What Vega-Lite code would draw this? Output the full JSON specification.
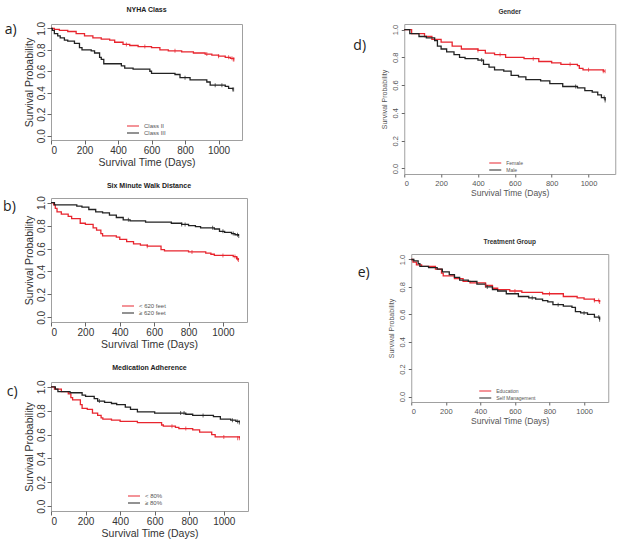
{
  "$schema": "https://vega.github.io/schema/vega-lite/v6.json",
  "background": "white",
  "padding": {"left": 3, "top": 3, "right": 3, "bottom": 3},
  "config": {
    "font": "Liberation Sans",
    "view": {"stroke": "#a0a0a0", "strokeWidth": 1},
    "axis": {"domain": false, "grid": false, "labelColor": "#333", "tickColor": "#666", "titleColor": "#333", "titleFontWeight": "normal", "labelFont": "Liberation Sans", "titleFont": "Liberation Sans", "tickSize": 4, "labelPadding": 1},
    "legend": {"labelFont": "Liberation Sans", "labelColor": "#555", "labelFontSize": 6, "rowPadding": 0, "symbolType": "M-2,0H2", "symbolSize": 36, "symbolStrokeWidth": 1.4, "labelOffset": 7, "padding": 0, "title": null}
  },
  "datasets": {
    "km": [
      {"p":"a","g":"Class II","d":0,"s":1.0},{"p":"a","g":"Class II","d":20,"s":0.99},{"p":"a","g":"Class II","d":50,"s":0.98},{"p":"a","g":"Class II","d":100,"s":0.97},{"p":"a","g":"Class II","d":150,"s":0.95},{"p":"a","g":"Class II","d":200,"s":0.93},{"p":"a","g":"Class II","d":250,"s":0.91},{"p":"a","g":"Class II","d":300,"s":0.90},{"p":"a","g":"Class II","d":350,"s":0.89},{"p":"a","g":"Class II","d":380,"s":0.87},{"p":"a","g":"Class II","d":430,"s":0.85},{"p":"a","g":"Class II","d":470,"s":0.84},{"p":"a","g":"Class II","d":520,"s":0.83},{"p":"a","g":"Class II","d":600,"s":0.82},{"p":"a","g":"Class II","d":650,"s":0.80},{"p":"a","g":"Class II","d":700,"s":0.79},{"p":"a","g":"Class II","d":780,"s":0.78},{"p":"a","g":"Class II","d":850,"s":0.77},{"p":"a","g":"Class II","d":920,"s":0.76},{"p":"a","g":"Class II","d":960,"s":0.75},{"p":"a","g":"Class II","d":1000,"s":0.74},{"p":"a","g":"Class II","d":1040,"s":0.73},{"p":"a","g":"Class II","d":1070,"s":0.72},{"p":"a","g":"Class II","d":1090,"s":0.71},
      {"p":"a","g":"Class II","d":450,"s":0.85,"c":1},{"p":"a","g":"Class II","d":560,"s":0.83,"c":1},{"p":"a","g":"Class II","d":740,"s":0.79,"c":1},{"p":"a","g":"Class II","d":930,"s":0.76,"c":1},{"p":"a","g":"Class II","d":1000,"s":0.74,"c":1},{"p":"a","g":"Class II","d":1060,"s":0.73,"c":1},{"p":"a","g":"Class II","d":1080,"s":0.72,"c":1},{"p":"a","g":"Class II","d":1088,"s":0.71,"c":1},{"p":"a","g":"Class II","d":1092,"s":0.71,"c":1},
      {"p":"a","g":"Class III","d":0,"s":1.0},{"p":"a","g":"Class III","d":8,"s":0.98},{"p":"a","g":"Class III","d":20,"s":0.95},{"p":"a","g":"Class III","d":40,"s":0.93},{"p":"a","g":"Class III","d":55,"s":0.91},{"p":"a","g":"Class III","d":80,"s":0.89},{"p":"a","g":"Class III","d":100,"s":0.88},{"p":"a","g":"Class III","d":140,"s":0.86},{"p":"a","g":"Class III","d":170,"s":0.82},{"p":"a","g":"Class III","d":185,"s":0.80},{"p":"a","g":"Class III","d":240,"s":0.79},{"p":"a","g":"Class III","d":260,"s":0.77},{"p":"a","g":"Class III","d":290,"s":0.73},{"p":"a","g":"Class III","d":300,"s":0.71},{"p":"a","g":"Class III","d":315,"s":0.67},{"p":"a","g":"Class III","d":420,"s":0.65},{"p":"a","g":"Class III","d":440,"s":0.63},{"p":"a","g":"Class III","d":490,"s":0.62},{"p":"a","g":"Class III","d":590,"s":0.60},{"p":"a","g":"Class III","d":600,"s":0.58},{"p":"a","g":"Class III","d":740,"s":0.57},{"p":"a","g":"Class III","d":770,"s":0.54},{"p":"a","g":"Class III","d":830,"s":0.52},{"p":"a","g":"Class III","d":930,"s":0.50},{"p":"a","g":"Class III","d":950,"s":0.47},{"p":"a","g":"Class III","d":1040,"s":0.46},{"p":"a","g":"Class III","d":1060,"s":0.44},{"p":"a","g":"Class III","d":1085,"s":0.43},
      {"p":"a","g":"Class III","d":800,"s":0.54,"c":1},{"p":"a","g":"Class III","d":980,"s":0.47,"c":1},{"p":"a","g":"Class III","d":1020,"s":0.47,"c":1},{"p":"a","g":"Class III","d":1085,"s":0.43,"c":1},{"p":"a","g":"Class III","d":1090,"s":0.43,"c":1},
      {"p":"b","g":"< 620 feet","d":0,"s":1.0},{"p":"b","g":"< 620 feet","d":15,"s":0.98},{"p":"b","g":"< 620 feet","d":25,"s":0.95},{"p":"b","g":"< 620 feet","d":35,"s":0.92},{"p":"b","g":"< 620 feet","d":60,"s":0.90},{"p":"b","g":"< 620 feet","d":100,"s":0.88},{"p":"b","g":"< 620 feet","d":120,"s":0.86},{"p":"b","g":"< 620 feet","d":170,"s":0.82},{"p":"b","g":"< 620 feet","d":200,"s":0.81},{"p":"b","g":"< 620 feet","d":245,"s":0.78},{"p":"b","g":"< 620 feet","d":265,"s":0.76},{"p":"b","g":"< 620 feet","d":290,"s":0.73},{"p":"b","g":"< 620 feet","d":300,"s":0.71},{"p":"b","g":"< 620 feet","d":380,"s":0.70},{"p":"b","g":"< 620 feet","d":400,"s":0.68},{"p":"b","g":"< 620 feet","d":440,"s":0.66},{"p":"b","g":"< 620 feet","d":480,"s":0.64},{"p":"b","g":"< 620 feet","d":520,"s":0.63},{"p":"b","g":"< 620 feet","d":560,"s":0.62},{"p":"b","g":"< 620 feet","d":640,"s":0.59},{"p":"b","g":"< 620 feet","d":660,"s":0.58},{"p":"b","g":"< 620 feet","d":800,"s":0.57},{"p":"b","g":"< 620 feet","d":900,"s":0.56},{"p":"b","g":"< 620 feet","d":930,"s":0.55},{"p":"b","g":"< 620 feet","d":950,"s":0.54},{"p":"b","g":"< 620 feet","d":1060,"s":0.53},{"p":"b","g":"< 620 feet","d":1080,"s":0.51},{"p":"b","g":"< 620 feet","d":1090,"s":0.50},
      {"p":"b","g":"< 620 feet","d":560,"s":0.62,"c":1},{"p":"b","g":"< 620 feet","d":820,"s":0.57,"c":1},{"p":"b","g":"< 620 feet","d":1000,"s":0.54,"c":1},{"p":"b","g":"< 620 feet","d":1070,"s":0.53,"c":1},{"p":"b","g":"< 620 feet","d":1085,"s":0.51,"c":1},{"p":"b","g":"< 620 feet","d":1090,"s":0.50,"c":1},
      {"p":"b","g":"≥ 620 feet","d":0,"s":1.0},{"p":"b","g":"≥ 620 feet","d":20,"s":0.98},{"p":"b","g":"≥ 620 feet","d":150,"s":0.97},{"p":"b","g":"≥ 620 feet","d":180,"s":0.96},{"p":"b","g":"≥ 620 feet","d":220,"s":0.94},{"p":"b","g":"≥ 620 feet","d":260,"s":0.92},{"p":"b","g":"≥ 620 feet","d":300,"s":0.91},{"p":"b","g":"≥ 620 feet","d":340,"s":0.89},{"p":"b","g":"≥ 620 feet","d":380,"s":0.87},{"p":"b","g":"≥ 620 feet","d":420,"s":0.85},{"p":"b","g":"≥ 620 feet","d":460,"s":0.84},{"p":"b","g":"≥ 620 feet","d":550,"s":0.83},{"p":"b","g":"≥ 620 feet","d":700,"s":0.82},{"p":"b","g":"≥ 620 feet","d":760,"s":0.81},{"p":"b","g":"≥ 620 feet","d":800,"s":0.80},{"p":"b","g":"≥ 620 feet","d":840,"s":0.79},{"p":"b","g":"≥ 620 feet","d":870,"s":0.78},{"p":"b","g":"≥ 620 feet","d":950,"s":0.77},{"p":"b","g":"≥ 620 feet","d":980,"s":0.75},{"p":"b","g":"≥ 620 feet","d":1010,"s":0.74},{"p":"b","g":"≥ 620 feet","d":1050,"s":0.73},{"p":"b","g":"≥ 620 feet","d":1070,"s":0.72},{"p":"b","g":"≥ 620 feet","d":1090,"s":0.71},
      {"p":"b","g":"≥ 620 feet","d":450,"s":0.85,"c":1},{"p":"b","g":"≥ 620 feet","d":760,"s":0.81,"c":1},{"p":"b","g":"≥ 620 feet","d":780,"s":0.81,"c":1},{"p":"b","g":"≥ 620 feet","d":940,"s":0.78,"c":1},{"p":"b","g":"≥ 620 feet","d":1000,"s":0.75,"c":1},{"p":"b","g":"≥ 620 feet","d":1060,"s":0.73,"c":1},{"p":"b","g":"≥ 620 feet","d":1085,"s":0.72,"c":1},{"p":"b","g":"≥ 620 feet","d":1092,"s":0.71,"c":1},
      {"p":"c","g":"< 80%","d":0,"s":1.0},{"p":"c","g":"< 80%","d":20,"s":0.98},{"p":"c","g":"< 80%","d":60,"s":0.96},{"p":"c","g":"< 80%","d":100,"s":0.94},{"p":"c","g":"< 80%","d":115,"s":0.91},{"p":"c","g":"< 80%","d":125,"s":0.89},{"p":"c","g":"< 80%","d":170,"s":0.85},{"p":"c","g":"< 80%","d":180,"s":0.82},{"p":"c","g":"< 80%","d":210,"s":0.81},{"p":"c","g":"< 80%","d":240,"s":0.78},{"p":"c","g":"< 80%","d":270,"s":0.76},{"p":"c","g":"< 80%","d":290,"s":0.74},{"p":"c","g":"< 80%","d":300,"s":0.73},{"p":"c","g":"< 80%","d":350,"s":0.72},{"p":"c","g":"< 80%","d":400,"s":0.71},{"p":"c","g":"< 80%","d":500,"s":0.70},{"p":"c","g":"< 80%","d":640,"s":0.68},{"p":"c","g":"< 80%","d":650,"s":0.67},{"p":"c","g":"< 80%","d":720,"s":0.66},{"p":"c","g":"< 80%","d":740,"s":0.65},{"p":"c","g":"< 80%","d":820,"s":0.64},{"p":"c","g":"< 80%","d":860,"s":0.62},{"p":"c","g":"< 80%","d":930,"s":0.60},{"p":"c","g":"< 80%","d":950,"s":0.58},{"p":"c","g":"< 80%","d":1090,"s":0.57},
      {"p":"c","g":"< 80%","d":700,"s":0.67,"c":1},{"p":"c","g":"< 80%","d":780,"s":0.65,"c":1},{"p":"c","g":"< 80%","d":1000,"s":0.58,"c":1},{"p":"c","g":"< 80%","d":1080,"s":0.57,"c":1},{"p":"c","g":"< 80%","d":1090,"s":0.57,"c":1},
      {"p":"c","g":"≥ 80%","d":0,"s":1.0},{"p":"c","g":"≥ 80%","d":25,"s":0.98},{"p":"c","g":"≥ 80%","d":40,"s":0.96},{"p":"c","g":"≥ 80%","d":110,"s":0.95},{"p":"c","g":"≥ 80%","d":180,"s":0.93},{"p":"c","g":"≥ 80%","d":200,"s":0.92},{"p":"c","g":"≥ 80%","d":250,"s":0.90},{"p":"c","g":"≥ 80%","d":270,"s":0.88},{"p":"c","g":"≥ 80%","d":310,"s":0.87},{"p":"c","g":"≥ 80%","d":350,"s":0.86},{"p":"c","g":"≥ 80%","d":380,"s":0.85},{"p":"c","g":"≥ 80%","d":430,"s":0.83},{"p":"c","g":"≥ 80%","d":460,"s":0.81},{"p":"c","g":"≥ 80%","d":500,"s":0.79},{"p":"c","g":"≥ 80%","d":600,"s":0.78},{"p":"c","g":"≥ 80%","d":780,"s":0.77},{"p":"c","g":"≥ 80%","d":820,"s":0.76},{"p":"c","g":"≥ 80%","d":940,"s":0.75},{"p":"c","g":"≥ 80%","d":980,"s":0.73},{"p":"c","g":"≥ 80%","d":1040,"s":0.72},{"p":"c","g":"≥ 80%","d":1070,"s":0.71},{"p":"c","g":"≥ 80%","d":1090,"s":0.70},
      {"p":"c","g":"≥ 80%","d":280,"s":0.88,"c":1},{"p":"c","g":"≥ 80%","d":750,"s":0.78,"c":1},{"p":"c","g":"≥ 80%","d":770,"s":0.78,"c":1},{"p":"c","g":"≥ 80%","d":880,"s":0.76,"c":1},{"p":"c","g":"≥ 80%","d":1050,"s":0.72,"c":1},{"p":"c","g":"≥ 80%","d":1080,"s":0.71,"c":1},{"p":"c","g":"≥ 80%","d":1090,"s":0.70,"c":1},
      {"p":"d","g":"Female","d":0,"s":1.0},{"p":"d","g":"Female","d":40,"s":0.97},{"p":"d","g":"Female","d":110,"s":0.95},{"p":"d","g":"Female","d":150,"s":0.93},{"p":"d","g":"Female","d":200,"s":0.91},{"p":"d","g":"Female","d":260,"s":0.88},{"p":"d","g":"Female","d":310,"s":0.86},{"p":"d","g":"Female","d":400,"s":0.85},{"p":"d","g":"Female","d":440,"s":0.83},{"p":"d","g":"Female","d":490,"s":0.82},{"p":"d","g":"Female","d":550,"s":0.80},{"p":"d","g":"Female","d":650,"s":0.79},{"p":"d","g":"Female","d":730,"s":0.77},{"p":"d","g":"Female","d":800,"s":0.76},{"p":"d","g":"Female","d":850,"s":0.75},{"p":"d","g":"Female","d":940,"s":0.74},{"p":"d","g":"Female","d":950,"s":0.72},{"p":"d","g":"Female","d":970,"s":0.71},{"p":"d","g":"Female","d":1080,"s":0.70},{"p":"d","g":"Female","d":1090,"s":0.70},
      {"p":"d","g":"Female","d":400,"s":0.85,"c":1},{"p":"d","g":"Female","d":520,"s":0.82,"c":1},{"p":"d","g":"Female","d":700,"s":0.79,"c":1},{"p":"d","g":"Female","d":900,"s":0.75,"c":1},{"p":"d","g":"Female","d":1000,"s":0.71,"c":1},{"p":"d","g":"Female","d":1080,"s":0.70,"c":1},{"p":"d","g":"Female","d":1090,"s":0.70,"c":1},
      {"p":"d","g":"Male","d":0,"s":1.0},{"p":"d","g":"Male","d":30,"s":0.97},{"p":"d","g":"Male","d":80,"s":0.95},{"p":"d","g":"Male","d":120,"s":0.94},{"p":"d","g":"Male","d":165,"s":0.92},{"p":"d","g":"Male","d":180,"s":0.88},{"p":"d","g":"Male","d":200,"s":0.86},{"p":"d","g":"Male","d":230,"s":0.84},{"p":"d","g":"Male","d":270,"s":0.82},{"p":"d","g":"Male","d":300,"s":0.80},{"p":"d","g":"Male","d":330,"s":0.79},{"p":"d","g":"Male","d":400,"s":0.78},{"p":"d","g":"Male","d":430,"s":0.75},{"p":"d","g":"Male","d":460,"s":0.73},{"p":"d","g":"Male","d":490,"s":0.71},{"p":"d","g":"Male","d":540,"s":0.70},{"p":"d","g":"Male","d":580,"s":0.67},{"p":"d","g":"Male","d":620,"s":0.66},{"p":"d","g":"Male","d":660,"s":0.64},{"p":"d","g":"Male","d":740,"s":0.63},{"p":"d","g":"Male","d":790,"s":0.61},{"p":"d","g":"Male","d":860,"s":0.59},{"p":"d","g":"Male","d":940,"s":0.58},{"p":"d","g":"Male","d":980,"s":0.56},{"p":"d","g":"Male","d":1020,"s":0.55},{"p":"d","g":"Male","d":1050,"s":0.53},{"p":"d","g":"Male","d":1070,"s":0.51},{"p":"d","g":"Male","d":1090,"s":0.49},
      {"p":"d","g":"Male","d":420,"s":0.78,"c":1},{"p":"d","g":"Male","d":930,"s":0.59,"c":1},{"p":"d","g":"Male","d":1085,"s":0.51,"c":1},{"p":"d","g":"Male","d":1090,"s":0.49,"c":1},
      {"p":"e","g":"Education","d":0,"s":1.0},{"p":"e","g":"Education","d":10,"s":0.98},{"p":"e","g":"Education","d":30,"s":0.96},{"p":"e","g":"Education","d":60,"s":0.95},{"p":"e","g":"Education","d":140,"s":0.93},{"p":"e","g":"Education","d":175,"s":0.90},{"p":"e","g":"Education","d":185,"s":0.88},{"p":"e","g":"Education","d":250,"s":0.86},{"p":"e","g":"Education","d":300,"s":0.84},{"p":"e","g":"Education","d":340,"s":0.83},{"p":"e","g":"Education","d":430,"s":0.81},{"p":"e","g":"Education","d":470,"s":0.79},{"p":"e","g":"Education","d":500,"s":0.78},{"p":"e","g":"Education","d":570,"s":0.77},{"p":"e","g":"Education","d":640,"s":0.76},{"p":"e","g":"Education","d":760,"s":0.75},{"p":"e","g":"Education","d":880,"s":0.73},{"p":"e","g":"Education","d":960,"s":0.72},{"p":"e","g":"Education","d":1000,"s":0.71},{"p":"e","g":"Education","d":1060,"s":0.70},{"p":"e","g":"Education","d":1090,"s":0.69},
      {"p":"e","g":"Education","d":430,"s":0.81,"c":1},{"p":"e","g":"Education","d":600,"s":0.77,"c":1},{"p":"e","g":"Education","d":800,"s":0.75,"c":1},{"p":"e","g":"Education","d":1060,"s":0.70,"c":1},{"p":"e","g":"Education","d":1085,"s":0.70,"c":1},{"p":"e","g":"Education","d":1090,"s":0.69,"c":1},
      {"p":"e","g":"Self Management","d":0,"s":1.0},{"p":"e","g":"Self Management","d":15,"s":0.99},{"p":"e","g":"Self Management","d":40,"s":0.97},{"p":"e","g":"Self Management","d":50,"s":0.95},{"p":"e","g":"Self Management","d":100,"s":0.94},{"p":"e","g":"Self Management","d":150,"s":0.93},{"p":"e","g":"Self Management","d":180,"s":0.91},{"p":"e","g":"Self Management","d":220,"s":0.89},{"p":"e","g":"Self Management","d":250,"s":0.87},{"p":"e","g":"Self Management","d":280,"s":0.85},{"p":"e","g":"Self Management","d":330,"s":0.84},{"p":"e","g":"Self Management","d":380,"s":0.82},{"p":"e","g":"Self Management","d":430,"s":0.80},{"p":"e","g":"Self Management","d":470,"s":0.78},{"p":"e","g":"Self Management","d":500,"s":0.77},{"p":"e","g":"Self Management","d":550,"s":0.75},{"p":"e","g":"Self Management","d":620,"s":0.73},{"p":"e","g":"Self Management","d":680,"s":0.72},{"p":"e","g":"Self Management","d":720,"s":0.71},{"p":"e","g":"Self Management","d":760,"s":0.70},{"p":"e","g":"Self Management","d":790,"s":0.69},{"p":"e","g":"Self Management","d":820,"s":0.67},{"p":"e","g":"Self Management","d":880,"s":0.66},{"p":"e","g":"Self Management","d":930,"s":0.65},{"p":"e","g":"Self Management","d":950,"s":0.62},{"p":"e","g":"Self Management","d":980,"s":0.61},{"p":"e","g":"Self Management","d":1020,"s":0.60},{"p":"e","g":"Self Management","d":1060,"s":0.58},{"p":"e","g":"Self Management","d":1090,"s":0.56},
      {"p":"e","g":"Self Management","d":440,"s":0.80,"c":1},{"p":"e","g":"Self Management","d":700,"s":0.72,"c":1},{"p":"e","g":"Self Management","d":850,"s":0.67,"c":1},{"p":"e","g":"Self Management","d":1000,"s":0.61,"c":1},{"p":"e","g":"Self Management","d":1085,"s":0.58,"c":1},{"p":"e","g":"Self Management","d":1090,"s":0.56,"c":1}
    ]
  },
  "resolve": {"scale": {"color": "independent"}, "legend": {"color": "independent"}},
  "spacing": 104,
  "hconcat": [
    {
      "spacing": 13,
      "resolve": {"scale": {"color": "independent"}, "legend": {"color": "independent"}},
      "vconcat": [
        {
          "title": {"text": "a)", "orient": "left", "angle": 0, "anchor": "end", "fontSize": 14, "fontWeight": "normal", "font": "Open Sans", "color": "#222", "offset": -5, "dy": 17},
          "resolve": {"scale": {"color": "independent"}, "legend": {"color": "independent"}},
          "vconcat": [{
            "title": {"text": "NYHA Class", "fontSize": 7, "fontWeight": "bold", "color": "#222", "offset": 8},
            "width": 191, "height": 116,
            "data": {"name": "km"},
            "transform": [{"filter": "datum.p === 'a'"}],
            "encoding": {
              "x": {"field": "d", "type": "quantitative", "scale": {"domain": [0, 1140], "nice": false, "zero": false}, "axis": {"title": "Survival Time (Days)", "values": [0, 200, 400, 600, 800, 1000], "format": "d", "labelFontSize": 10, "titleFontSize": 10.5, "titlePadding": 2}},
              "y": {"field": "s", "type": "quantitative", "scale": {"domain": [-0.04, 1.04], "nice": false, "zero": false}, "axis": {"title": "Survival Probability", "values": [0, 0.2, 0.4, 0.6, 0.8, 1], "format": ".1f", "labelAngle": 270, "labelAlign": "center", "labelBaseline": "bottom", "labelFontSize": 10, "titleFontSize": 10.5, "titlePadding": 2}},
              "color": {"field": "g", "type": "nominal", "scale": {"domain": ["Class II", "Class III"], "range": ["#e8252e", "#222222"]}, "legend": {"orient": "none", "legendX": 78, "legendY": 98}}
            },
            "layer": [
              {"transform": [{"filter": "datum.c !== 1"}], "mark": {"type": "line", "interpolate": "step-after", "strokeWidth": 1.3}},
              {"transform": [{"filter": "datum.c === 1"}], "mark": {"type": "tick", "orient": "vertical", "size": 4, "thickness": 1}}
            ]
          }]
        },
        {
          "title": {"text": "b)", "orient": "left", "angle": 0, "anchor": "end", "fontSize": 14, "fontWeight": "normal", "font": "Open Sans", "color": "#222", "offset": -5, "dy": 19},
          "resolve": {"scale": {"color": "independent"}, "legend": {"color": "independent"}},
          "vconcat": [{
            "title": {"text": "Six Minute Walk Distance", "fontSize": 7, "fontWeight": "bold", "color": "#222", "offset": 7},
            "width": 196, "height": 124,
            "data": {"name": "km"},
            "transform": [{"filter": "datum.p === 'b'"}],
            "encoding": {
              "x": {"field": "d", "type": "quantitative", "scale": {"domain": [0, 1140], "nice": false, "zero": false}, "axis": {"title": "Survival Time (Days)", "values": [0, 200, 400, 600, 800, 1000], "format": "d", "labelFontSize": 10, "titleFontSize": 10.5, "titlePadding": 2}},
              "y": {"field": "s", "type": "quantitative", "scale": {"domain": [-0.04, 1.04], "nice": false, "zero": false}, "axis": {"title": "Survival Probability", "values": [0, 0.2, 0.4, 0.6, 0.8, 1], "format": ".1f", "labelAngle": 270, "labelAlign": "center", "labelBaseline": "bottom", "labelFontSize": 10, "titleFontSize": 10.5, "titlePadding": 2}},
              "color": {"field": "g", "type": "nominal", "scale": {"domain": ["< 620 feet", "≥ 620 feet"], "range": ["#e8252e", "#222222"]}, "legend": {"orient": "none", "legendX": 73, "legendY": 104}}
            },
            "layer": [
              {"transform": [{"filter": "datum.c !== 1"}], "mark": {"type": "line", "interpolate": "step-after", "strokeWidth": 1.3}},
              {"transform": [{"filter": "datum.c === 1"}], "mark": {"type": "tick", "orient": "vertical", "size": 4, "thickness": 1}}
            ]
          }]
        },
        {
          "title": {"text": "c)", "orient": "left", "angle": 0, "anchor": "end", "fontSize": 14, "fontWeight": "normal", "font": "Open Sans", "color": "#222", "offset": -5, "dy": 22},
          "resolve": {"scale": {"color": "independent"}, "legend": {"color": "independent"}},
          "vconcat": [{
            "title": {"text": "Medication Adherence", "fontSize": 7, "fontWeight": "bold", "color": "#222", "offset": 9},
            "width": 197, "height": 129,
            "data": {"name": "km"},
            "transform": [{"filter": "datum.p === 'c'"}],
            "encoding": {
              "x": {"field": "d", "type": "quantitative", "scale": {"domain": [0, 1140], "nice": false, "zero": false}, "axis": {"title": "Survival Time (Days)", "values": [0, 200, 400, 600, 800, 1000], "format": "d", "labelFontSize": 10, "titleFontSize": 10.5, "titlePadding": 2}},
              "y": {"field": "s", "type": "quantitative", "scale": {"domain": [-0.04, 1.04], "nice": false, "zero": false}, "axis": {"title": "Survival Probability", "values": [0, 0.2, 0.4, 0.6, 0.8, 1], "format": ".1f", "labelAngle": 270, "labelAlign": "center", "labelBaseline": "bottom", "labelFontSize": 10, "titleFontSize": 10.5, "titlePadding": 2}},
              "color": {"field": "g", "type": "nominal", "scale": {"domain": ["< 80%", "≥ 80%"], "range": ["#e8252e", "#222222"]}, "legend": {"orient": "none", "legendX": 79, "legendY": 110}}
            },
            "layer": [
              {"transform": [{"filter": "datum.c !== 1"}], "mark": {"type": "line", "interpolate": "step-after", "strokeWidth": 1.3}},
              {"transform": [{"filter": "datum.c === 1"}], "mark": {"type": "tick", "orient": "vertical", "size": 4, "thickness": 1}}
            ]
          }]
        }
      ]
    },
    {
      "spacing": 40,
      "center": true,
      "title": {"text": " ", "fontSize": 1, "offset": 4},
      "resolve": {"scale": {"color": "independent"}, "legend": {"color": "independent"}},
      "vconcat": [
        {
          "title": {"text": "d)", "orient": "left", "angle": 0, "anchor": "end", "fontSize": 14, "fontWeight": "normal", "font": "Open Sans", "color": "#222", "offset": 1, "dy": 31},
          "resolve": {"scale": {"color": "independent"}, "legend": {"color": "independent"}},
          "vconcat": [{
            "title": {"text": "Gender", "fontSize": 6.5, "fontWeight": "bold", "color": "#333", "offset": 9},
            "width": 211, "height": 150,
            "data": {"name": "km"},
            "transform": [{"filter": "datum.p === 'd'"}],
            "encoding": {
              "x": {"field": "d", "type": "quantitative", "scale": {"domain": [0, 1145], "nice": false, "zero": false}, "axis": {"title": "Survival Time (Days)", "values": [0, 200, 400, 600, 800, 1000], "format": "d", "labelFontSize": 7.5, "titleFontSize": 8.5, "titlePadding": 2, "labelColor": "#555", "titleColor": "#555", "tickSize": 3, "labelPadding": 2}},
              "y": {"field": "s", "type": "quantitative", "scale": {"domain": [-0.04, 1.04], "nice": false, "zero": false}, "axis": {"title": "Survival Probability", "values": [0, 0.2, 0.4, 0.6, 0.8, 1], "format": ".1f", "labelAngle": 270, "labelAlign": "center", "labelBaseline": "bottom", "labelFontSize": 7.5, "titleFontSize": 7, "titlePadding": 4, "labelColor": "#555", "titleColor": "#555", "tickSize": 3, "labelPadding": 2}},
              "color": {"field": "g", "type": "nominal", "scale": {"domain": ["Female", "Male"], "range": ["#e8252e", "#222222"]}, "legend": {"orient": "none", "legendX": 87, "legendY": 135, "labelFontSize": 5}}
            },
            "layer": [
              {"transform": [{"filter": "datum.c !== 1"}], "mark": {"type": "line", "interpolate": "step-after", "strokeWidth": 1.3}},
              {"transform": [{"filter": "datum.c === 1"}], "mark": {"type": "tick", "orient": "vertical", "size": 4, "thickness": 1}}
            ]
          }]
        },
        {
          "title": {"text": "\u2007\u2008e)", "orient": "left", "angle": 0, "anchor": "end", "fontSize": 14, "fontWeight": "normal", "font": "Open Sans", "color": "#222", "offset": 5, "dy": 28},
          "resolve": {"scale": {"color": "independent"}, "legend": {"color": "independent"}},
          "vconcat": [{
            "title": {"text": "Treatment Group", "fontSize": 6.5, "fontWeight": "bold", "color": "#333", "offset": 9},
            "width": 197, "height": 148,
            "data": {"name": "km"},
            "transform": [{"filter": "datum.p === 'e'"}],
            "encoding": {
              "x": {"field": "d", "type": "quantitative", "scale": {"domain": [0, 1140], "nice": false, "zero": false}, "axis": {"title": "Survival Time (Days)", "values": [0, 200, 400, 600, 800, 1000], "format": "d", "labelFontSize": 7.5, "titleFontSize": 8.5, "titlePadding": 2, "labelColor": "#555", "titleColor": "#555", "tickSize": 3, "labelPadding": 2}},
              "y": {"field": "s", "type": "quantitative", "scale": {"domain": [-0.04, 1.04], "nice": false, "zero": false}, "axis": {"title": "Survival Probability", "values": [0, 0.2, 0.4, 0.6, 0.8, 1], "format": ".1f", "labelAngle": 270, "labelAlign": "center", "labelBaseline": "bottom", "labelFontSize": 7.5, "titleFontSize": 7, "titlePadding": 4, "labelColor": "#555", "titleColor": "#555", "tickSize": 3, "labelPadding": 2}},
              "color": {"field": "g", "type": "nominal", "scale": {"domain": ["Education", "Self Management"], "range": ["#e8252e", "#222222"]}, "legend": {"orient": "none", "legendX": 70, "legendY": 133, "labelFontSize": 5}}
            },
            "layer": [
              {"transform": [{"filter": "datum.c !== 1"}], "mark": {"type": "line", "interpolate": "step-after", "strokeWidth": 1.3}},
              {"transform": [{"filter": "datum.c === 1"}], "mark": {"type": "tick", "orient": "vertical", "size": 4, "thickness": 1}}
            ]
          }]
        }
      ]
    }
  ]
}
